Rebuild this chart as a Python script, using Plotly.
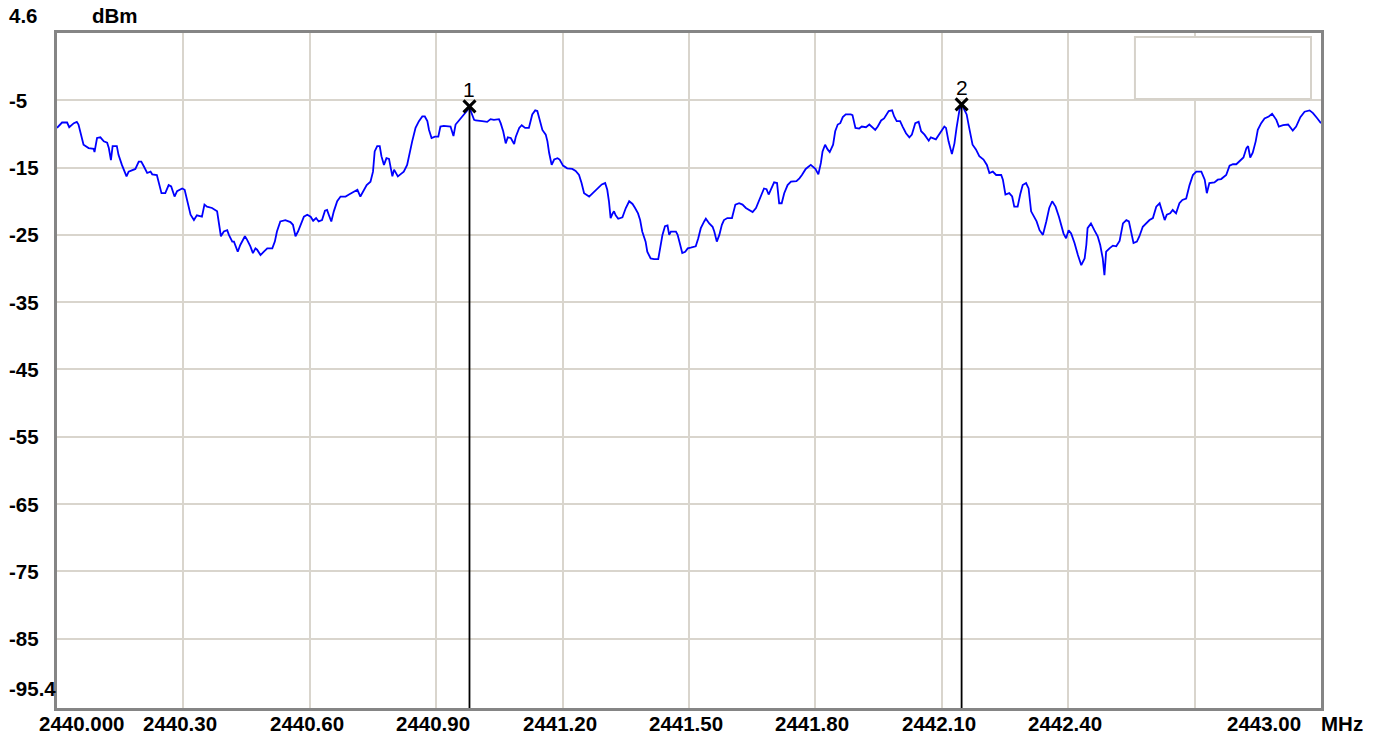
import plotly.graph_objects as go

# Spectrum analyser sweep: frequency (MHz) and level (dBm)
FREQ_MHZ = [
    2440.000, 2440.012, 2440.024, 2440.029, 2440.040, 2440.047, 2440.051, 2440.058, 2440.063, 2440.075,
    2440.087, 2440.089, 2440.095, 2440.103, 2440.111, 2440.119, 2440.123, 2440.128, 2440.132, 2440.142,
    2440.146, 2440.154, 2440.165, 2440.170, 2440.180, 2440.186, 2440.194, 2440.200, 2440.206, 2440.214,
    2440.222, 2440.226, 2440.237, 2440.248, 2440.257, 2440.265, 2440.271, 2440.279, 2440.285, 2440.297,
    2440.303, 2440.309, 2440.317, 2440.325, 2440.332, 2440.344, 2440.350, 2440.356, 2440.368, 2440.380,
    2440.384, 2440.389, 2440.396, 2440.404, 2440.408, 2440.416, 2440.420, 2440.429, 2440.435, 2440.446,
    2440.451, 2440.459, 2440.465, 2440.471, 2440.475, 2440.483, 2440.491, 2440.499, 2440.511, 2440.517,
    2440.522, 2440.530, 2440.542, 2440.554, 2440.560, 2440.566, 2440.572, 2440.578, 2440.586, 2440.594,
    2440.602, 2440.608, 2440.615, 2440.621, 2440.629, 2440.636, 2440.641, 2440.645, 2440.651, 2440.657,
    2440.665, 2440.673, 2440.685, 2440.693, 2440.705, 2440.713, 2440.720, 2440.728, 2440.735, 2440.744,
    2440.750, 2440.754, 2440.760, 2440.766, 2440.770, 2440.776, 2440.782, 2440.788, 2440.792, 2440.796,
    2440.800, 2440.804, 2440.809, 2440.815, 2440.823, 2440.831, 2440.837, 2440.843, 2440.851, 2440.859,
    2440.867, 2440.873, 2440.879, 2440.883, 2440.889, 2440.897, 2440.905, 2440.910, 2440.918, 2440.930,
    2440.934, 2440.941, 2440.946, 2440.954, 2440.966, 2440.975, 2440.979, 2440.982, 2440.990, 2440.994,
    2441.009, 2441.021, 2441.029, 2441.037, 2441.049, 2441.053, 2441.059, 2441.065, 2441.070, 2441.077,
    2441.085, 2441.089, 2441.097, 2441.103, 2441.111, 2441.120, 2441.128, 2441.135, 2441.140, 2441.146,
    2441.152, 2441.160, 2441.164, 2441.168, 2441.174, 2441.180, 2441.188, 2441.193, 2441.201, 2441.211,
    2441.223, 2441.231, 2441.239, 2441.245, 2441.251, 2441.263, 2441.271, 2441.283, 2441.293, 2441.301,
    2441.306, 2441.310, 2441.314, 2441.318, 2441.322, 2441.326, 2441.332, 2441.342, 2441.350, 2441.358,
    2441.366, 2441.372, 2441.379, 2441.384, 2441.389, 2441.397, 2441.401, 2441.409, 2441.417, 2441.427,
    2441.431, 2441.437, 2441.443, 2441.449, 2441.453, 2441.457, 2441.469, 2441.473, 2441.478, 2441.484,
    2441.491, 2441.497, 2441.504, 2441.516, 2441.522, 2441.528, 2441.536, 2441.540, 2441.548, 2441.556,
    2441.560, 2441.566, 2441.572, 2441.578, 2441.583, 2441.591, 2441.602, 2441.610, 2441.619, 2441.627,
    2441.635, 2441.644, 2441.651, 2441.659, 2441.665, 2441.673, 2441.678, 2441.684, 2441.689, 2441.694,
    2441.702, 2441.709, 2441.714, 2441.720, 2441.726, 2441.734, 2441.742, 2441.755, 2441.762, 2441.768,
    2441.777, 2441.789, 2441.800, 2441.807, 2441.813, 2441.817, 2441.823, 2441.829, 2441.834, 2441.842,
    2441.847, 2441.853, 2441.859, 2441.865, 2441.872, 2441.884, 2441.888, 2441.895, 2441.904, 2441.910,
    2441.920, 2441.928, 2441.936, 2441.942, 2441.948, 2441.956, 2441.963, 2441.974, 2441.982, 2441.987,
    2441.993, 2442.001, 2442.007, 2442.015, 2442.023, 2442.029, 2442.037, 2442.045, 2442.051, 2442.059,
    2442.069, 2442.074, 2442.086, 2442.094, 2442.106, 2442.110, 2442.116, 2442.124, 2442.130, 2442.135,
    2442.142, 2442.147, 2442.154, 2442.159, 2442.165, 2442.173, 2442.181, 2442.189, 2442.199, 2442.207,
    2442.213, 2442.221, 2442.229, 2442.241, 2442.245, 2442.251, 2442.260, 2442.267, 2442.272, 2442.280,
    2442.286, 2442.292, 2442.300, 2442.306, 2442.312, 2442.320, 2442.325, 2442.332, 2442.340, 2442.348,
    2442.355, 2442.362, 2442.370, 2442.378, 2442.383, 2442.389, 2442.395, 2442.401, 2442.407, 2442.415,
    2442.423, 2442.431, 2442.439, 2442.443, 2442.446, 2442.454, 2442.462, 2442.470, 2442.476, 2442.482,
    2442.486, 2442.490, 2442.498, 2442.506, 2442.514, 2442.522, 2442.530, 2442.538, 2442.544, 2442.549,
    2442.555, 2442.563, 2442.569, 2442.577, 2442.585, 2442.593, 2442.601, 2442.609, 2442.617, 2442.622,
    2442.629, 2442.634, 2442.642, 2442.648, 2442.656, 2442.664, 2442.671, 2442.680, 2442.688, 2442.696,
    2442.704, 2442.716, 2442.724, 2442.729, 2442.735, 2442.747, 2442.755, 2442.763, 2442.775, 2442.783,
    2442.791, 2442.799, 2442.807, 2442.816, 2442.823, 2442.827, 2442.832, 2442.838, 2442.845, 2442.850,
    2442.858, 2442.866, 2442.876, 2442.884, 2442.894, 2442.900, 2442.910, 2442.922, 2442.933, 2442.941,
    2442.951, 2442.961, 2442.973, 2442.981, 2442.990, 2443.000,
]

LEVEL_DBM = [
    -9.1, -8.3, -8.3, -9.0, -8.4, -8.2, -8.6, -10.6, -11.6, -12.1,
    -12.2, -12.7, -10.6, -10.5, -11.1, -11.3, -12.1, -13.9, -11.8, -11.8,
    -13.1, -14.6, -16.3, -15.6, -15.3, -15.2, -14.1, -14.1, -14.8, -15.8,
    -15.6, -16.0, -16.1, -18.8, -18.8, -17.6, -17.8, -19.3, -18.5, -18.1,
    -18.3, -20.0, -22.0, -22.8, -22.1, -22.3, -20.5, -20.8, -21.0, -21.5,
    -23.0, -25.2, -24.5, -24.3, -25.0, -26.0, -26.0, -27.5, -26.5, -25.2,
    -25.7, -26.7, -27.7, -27.0, -27.2, -28.0, -27.5, -27.0, -27.0, -26.0,
    -24.5, -23.0, -22.8, -23.1, -23.5, -25.2, -24.5, -23.5, -22.3, -22.0,
    -22.3, -22.9, -22.5, -23.0, -22.8, -21.4, -21.3, -22.0, -23.0, -21.5,
    -20.0, -19.3, -19.3, -19.0, -18.5, -18.3, -19.3, -18.5, -17.6, -17.1,
    -15.6, -12.6, -11.8, -11.8, -13.3, -14.6, -13.6, -13.7, -15.1, -16.3,
    -15.3, -15.8, -16.3, -16.0, -15.6, -14.6, -12.6, -11.1, -9.1, -8.1,
    -7.4, -7.4, -8.1, -9.4, -10.6, -10.4, -10.4, -8.9, -8.8, -8.8,
    -8.9, -10.3, -8.6, -8.0, -7.1, -6.4, -5.9, -6.6, -7.9, -8.0,
    -8.1, -8.2, -7.8, -7.9, -7.8, -8.4, -9.6, -11.4, -10.5, -10.6,
    -11.5, -10.4, -9.1, -8.7, -9.1, -9.1, -7.1, -6.5, -6.6, -8.0,
    -9.4, -10.1, -11.1, -12.8, -14.6, -13.8, -13.6, -13.8, -14.7, -15.1,
    -15.2, -15.5, -16.1, -17.3, -18.8, -19.3, -18.8, -18.2, -17.5, -17.3,
    -18.3, -20.0, -22.5, -21.9, -21.5, -22.1, -22.6, -22.4, -21.0, -20.0,
    -20.4, -21.0, -21.8, -22.8, -24.5, -26.0, -27.5, -28.5, -28.6, -28.6,
    -27.0, -25.0, -23.7, -23.6, -25.0, -24.5, -24.5, -25.0, -26.2, -27.7,
    -27.5, -27.0, -26.9, -26.7, -25.5, -24.0, -23.0, -22.6, -23.3, -23.8,
    -24.5, -26.0, -25.0, -23.5, -22.8, -22.5, -22.5, -20.5, -20.3, -20.5,
    -21.0, -21.3, -21.6, -21.0, -20.0, -18.8, -18.1, -18.2, -19.0, -18.3,
    -17.2, -17.3, -20.3, -20.3, -18.8, -17.6, -17.1, -17.0, -16.6, -16.1,
    -15.2, -14.6, -15.2, -16.0, -14.3, -12.6, -11.6, -12.3, -12.7, -11.6,
    -9.6, -8.6, -8.4, -7.5, -7.1, -7.1, -7.2, -9.1, -9.2, -8.9,
    -9.0, -8.6, -9.0, -9.4, -8.9, -8.0, -7.7, -6.6, -6.5, -7.4,
    -8.1, -8.1, -8.9, -9.9, -10.5, -10.1, -8.4, -8.2, -9.6, -10.1,
    -11.0, -10.5, -10.8, -10.1, -8.9, -9.1, -11.1, -13.0, -11.4, -9.1,
    -6.4, -5.6, -6.4, -7.1, -9.1, -11.6, -12.3, -13.3, -13.8, -14.6,
    -15.8, -15.6, -16.1, -16.1, -16.8, -19.0, -18.8, -19.3, -20.8, -20.8,
    -19.0, -17.6, -17.3, -18.1, -21.5, -22.3, -23.0, -24.3, -25.0, -23.0,
    -21.0, -20.0, -20.8, -22.3, -23.3, -24.8, -25.5, -24.3, -24.8, -26.2,
    -28.0, -29.5, -28.5, -26.5, -24.0, -23.3, -24.3, -25.2, -26.5, -28.5,
    -31.0, -27.5, -27.0, -26.6, -26.7, -25.9, -23.3, -22.8, -23.0, -24.5,
    -26.2, -26.0, -25.2, -23.8, -23.3, -22.8, -22.5, -20.8, -20.3, -21.5,
    -22.8, -22.0, -21.8, -21.3, -21.8, -20.3, -19.8, -19.6, -17.6, -16.1,
    -15.6, -15.6, -16.8, -18.8, -17.3, -17.2, -16.8, -16.7, -16.1, -14.7,
    -14.5, -14.5, -14.0, -13.5, -12.1, -11.8, -13.5, -12.8, -11.1, -9.4,
    -8.4, -7.7, -7.4, -7.0, -7.9, -8.9, -8.7, -8.6, -9.5, -8.9,
    -7.5, -6.7, -6.5, -6.9, -7.6, -8.4,
]

# Markers placed on the trace
MARKER_NAMES = ["1", "2"]
MARKER_FREQ = [2440.979, 2442.147]
MARKER_LEVEL = [-5.9, -5.6]

# Axis grid and labels
Y_TOP_LABEL = "4.6"
Y_BOTTOM_LABEL = "-95.4"
Y_GRID = [-5, -15, -25, -35, -45, -55, -65, -75, -85]
X_START, X_STOP = 2440.0, 2443.0
X_GRID = [2440.3, 2440.6, 2440.9, 2441.2, 2441.5, 2441.8, 2442.1, 2442.4, 2442.7]
X_LABELED = [2440.3, 2440.6, 2440.9, 2441.2, 2441.5, 2441.8, 2442.1, 2442.4]
X_LABELS = ["2440.30", "2440.60", "2440.90", "2441.20", "2441.50", "2441.80", "2442.10", "2442.40"]
X_START_LABEL = "2440.000"
X_STOP_LABEL = "2443.00"

Y_MIN, Y_MAX = -95.3, 5.0

FONT = "Liberation Sans, Arial, sans-serif"
GRID_COLOR = "#d9d5cd"
FRAME_COLOR = "#858585"

fig = go.Figure()

# Sweep trace
fig.add_trace(go.Scatter(
    x=FREQ_MHZ, y=LEVEL_DBM, mode="lines",
    line=dict(color="#0000ff", width=1.8),
    hoverinfo="skip", showlegend=False,
))

# Marker drop lines and cross symbols
for f, lv in zip(MARKER_FREQ, MARKER_LEVEL):
    fig.add_trace(go.Scatter(
        x=[f, f], y=[lv, Y_MIN], mode="lines",
        line=dict(color="#000000", width=1.8),
        hoverinfo="skip", showlegend=False,
    ))
fig.add_trace(go.Scatter(
    x=MARKER_FREQ, y=MARKER_LEVEL, mode="markers",
    marker=dict(symbol="x-thin", size=12, line=dict(color="#000000", width=3)),
    hoverinfo="skip", showlegend=False,
))

annotations = []
label_font = dict(family=FONT, size=20.5, color="#000000", weight="bold")

# Marker numbers
for name, f, lv in zip(MARKER_NAMES, MARKER_FREQ, MARKER_LEVEL):
    annotations.append(dict(
        x=f, y=lv, xref="x", yref="y", text=name, showarrow=False,
        xanchor="center", yanchor="middle", yshift=17,
        font=dict(family=FONT, size=21, color="#000000"),
    ))

# Level labels on the left
for v in Y_GRID:
    annotations.append(dict(
        x=0, y=v, xref="paper", yref="y", text=str(v), showarrow=False,
        xanchor="left", yanchor="middle", xshift=-50, font=label_font,
    ))
annotations.append(dict(
    x=0, y=0, xref="paper", yref="paper", text=Y_BOTTOM_LABEL, showarrow=False,
    xanchor="left", yanchor="middle", xshift=-50, yshift=20, font=label_font,
))
annotations.append(dict(
    x=0, y=1, xref="paper", yref="paper", text=Y_TOP_LABEL, showarrow=False,
    xanchor="left", yanchor="middle", xshift=-50, yshift=17.5, font=label_font,
))
annotations.append(dict(
    x=0, y=1, xref="paper", yref="paper", text="dBm", showarrow=False,
    xanchor="left", yanchor="middle", xshift=33, yshift=17.5, font=label_font,
))

# Frequency labels along the bottom
for v, t in zip(X_LABELED, X_LABELS):
    annotations.append(dict(
        x=v, y=0, xref="x", yref="paper", text=t, showarrow=False,
        xanchor="center", yanchor="middle", xshift=-3, yshift=-15, font=label_font,
    ))
annotations.append(dict(
    x=X_START, y=0, xref="x", yref="paper", text=X_START_LABEL, showarrow=False,
    xanchor="left", yanchor="middle", xshift=-20, yshift=-15, font=label_font,
))
annotations.append(dict(
    x=X_STOP, y=0, xref="x", yref="paper", text=X_STOP_LABEL, showarrow=False,
    xanchor="right", yanchor="middle", xshift=-18, yshift=-15, font=label_font,
))
annotations.append(dict(
    x=X_STOP, y=0, xref="x", yref="paper", text="MHz", showarrow=False,
    xanchor="left", yanchor="middle", xshift=-2, yshift=-15, font=label_font,
))

# Empty marker readout box in the upper right corner
shapes = [dict(
    type="rect", xref="paper", yref="paper",
    x0=0.8528, x1=0.9921, y0=0.9022, y1=0.9941,
    line=dict(color="#d6d2ca", width=2), fillcolor="#ffffff", layer="above",
)]

fig.update_layout(
    width=1381, height=738,
    margin=dict(l=57, r=60, t=33, b=30),
    paper_bgcolor="#ffffff", plot_bgcolor="#ffffff",
    annotations=annotations, shapes=shapes,
    showlegend=False,
    xaxis=dict(
        range=[X_START, X_STOP], tickvals=X_GRID, showticklabels=False, ticks="",
        showgrid=True, gridcolor=GRID_COLOR, gridwidth=2, zeroline=False,
        showline=True, mirror=True, linecolor=FRAME_COLOR, linewidth=3,
        fixedrange=True,
    ),
    yaxis=dict(
        range=[Y_MIN, Y_MAX], tickvals=Y_GRID, showticklabels=False, ticks="",
        showgrid=True, gridcolor=GRID_COLOR, gridwidth=2, zeroline=False,
        showline=True, mirror=True, linecolor=FRAME_COLOR, linewidth=3,
        fixedrange=True,
    ),
)

fig.write_html("out.html", config={"displayModeBar": False})
